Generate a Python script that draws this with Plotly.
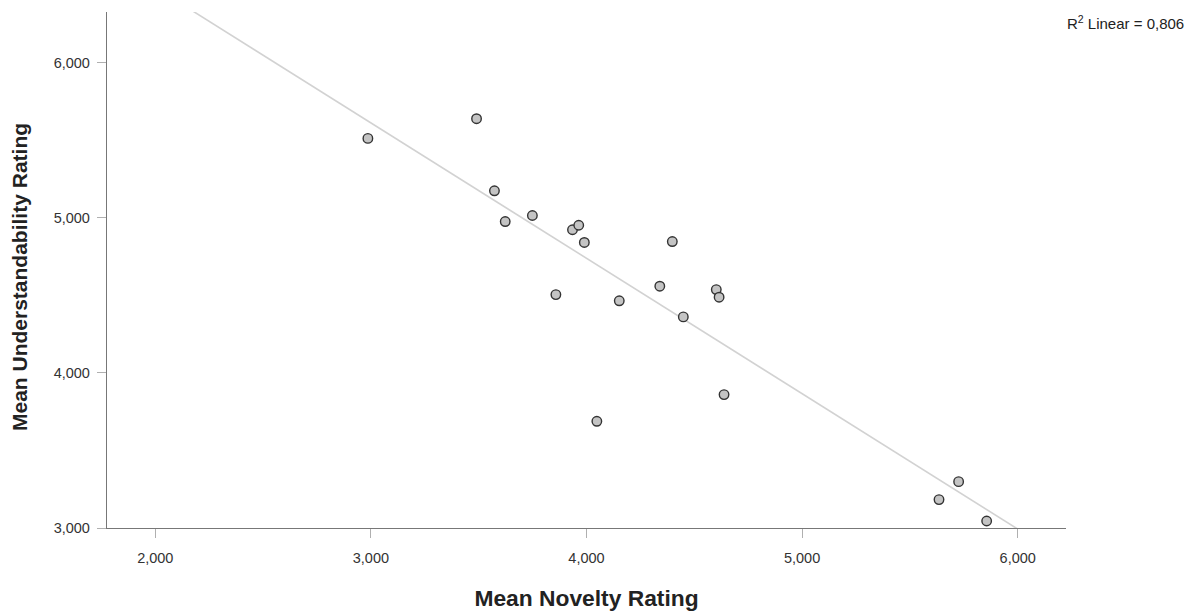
import numpy as np
import plotly.graph_objects as go

# Data
novelty = [2.986, 3.490, 3.573, 3.623, 3.749, 3.935, 3.964, 3.990, 4.398, 3.858,
           4.152, 4.340, 4.602, 4.615, 4.449, 4.638, 4.048, 5.726, 5.635, 5.856]
understandability = [5.512, 5.639, 5.174, 4.976, 5.015, 4.923, 4.952, 4.841, 4.847, 4.505,
                     4.465, 4.559, 4.537, 4.488, 4.361, 3.860, 3.688, 3.299, 3.183, 3.045]
x_ticks = [2, 3, 4, 5, 6]
y_ticks = [3, 4, 5, 6]
x_range = [1.776, 6.224]
y_range = [3.0, 6.327]
r2_label = "R<sup>2</sup> Linear = 0,806"
x_title = "<b>Mean Novelty Rating</b>"
y_title = "<b>Mean Understandability Rating</b>"

slope, intercept = np.polyfit(novelty, understandability, 1)
fit_x = np.array(x_range)
fit_y = slope * fit_x + intercept

fig = go.Figure()
fig.add_trace(go.Scatter(
    x=fit_x, y=fit_y, mode="lines",
    line=dict(color="#d2d2d2", width=1.6),
    hoverinfo="skip", showlegend=False,
))
fig.add_trace(go.Scatter(
    x=novelty, y=understandability, mode="markers",
    marker=dict(size=9.5, color="#c4c4c4", line=dict(color="#333333", width=1.4)),
    showlegend=False,
))

font_family = "Liberation Sans, Arial, sans-serif"
fig.update_layout(
    width=1190, height=604,
    margin=dict(l=99, r=132, t=4, b=84),
    paper_bgcolor="white", plot_bgcolor="white",
    separators=",.",
    font=dict(family=font_family, size=14.5, color="#333333"),
    annotations=[
        dict(
            text=r2_label, xref="paper", yref="paper", x=1.0, y=1.0,
            xanchor="left", yanchor="top", xshift=-1, yshift=1,
            showarrow=False, font=dict(size=15, color="#222222"),
        ),
        dict(
            text=y_title, xref="paper", yref="paper", x=0.0, y=0.5,
            xanchor="center", yanchor="middle", textangle=-90,
            xshift=-88, yshift=-7,
            showarrow=False, font=dict(size=21, color="#222222"),
        ),
    ],
)
fig.update_xaxes(
    range=x_range, tickvals=x_ticks, tickformat=".3f",
    showgrid=False, zeroline=False,
    showline=True, linecolor="#777777", linewidth=1.3,
    ticks="outside", ticklen=9, tickcolor="#b0b0b0", tickwidth=1,
    ticklabelstandoff=7,
    title=dict(text=x_title, font=dict(size=22.8, color="#222222"), standoff=25),
)
fig.update_yaxes(
    range=y_range, tickvals=y_ticks, tickformat=".3f",
    showgrid=False, zeroline=False,
    showline=True, linecolor="#777777", linewidth=1.3,
    ticks="outside", ticklen=9, tickcolor="#b0b0b0", tickwidth=1,
    ticklabelstandoff=4,
)

fig.write_html("out.html")
